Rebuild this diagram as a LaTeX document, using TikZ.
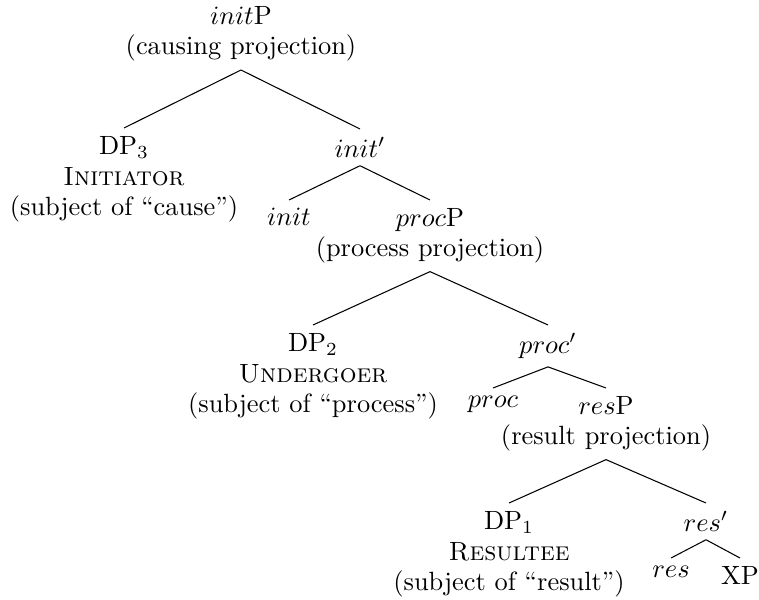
\documentclass[tikz,border=0pt]{standalone}
\usepackage{amsmath}
\usepackage{tikz}

\begin{document}
\begin{tikzpicture}[x=0.3788pt, y=-0.3788pt, tx/.style={align=center, inner sep=+3pt, anchor=north, font=\fontsize{10}{11.4}\selectfont}]
       \useasboundingbox (0,0) rectangle (759,599);

       \node[tx, anchor=south] (iP) at (241,70) {$init$P\\(causing projection)};
       \node[tx] (d3) at (124,128) {DP$_3$\\[0.2pt]\textsc{Initiator}\\(subject of ``cause'')};
       \node[tx] (ib) at (360,129) {$init'$};
       \node[tx] (i) at (289,200) {$init$};
       \node[tx] (pP) at (430,200) {$proc$P\\(process projection)};
       \node[tx] (d2) at (313,325) {DP$_2$\\[0.2pt]\textsc{Undergoer}\\(subject of ``process'')};
       \node[tx] (pb) at (548,325) {$proc'$};
       \node[tx] (p) at (493,388) {$proc$};
       \node[tx] (rP) at (606,388) {$res$P\\(result projection)};
       \node[tx] (d1) at (509,503) {DP$_1$\\[0.2pt]\textsc{Resultee}\\(subject of ``result'')};
       \node[tx] (rb) at (706,503) {$res'$};
       \node[tx] (r) at (671,558) {$res$};
       \node[tx] (xp) at (740,558) {XP};

       \foreach \a/\b in {iP/d3, iP/ib, ib/i, ib/pP, pP/d2, pP/pb, pb/p, pb/rP, rP/d1, rP/rb, rb/r, rb/xp}
         \draw (\a.south) -- (\b.north);
	\end{tikzpicture}
\end{document}
